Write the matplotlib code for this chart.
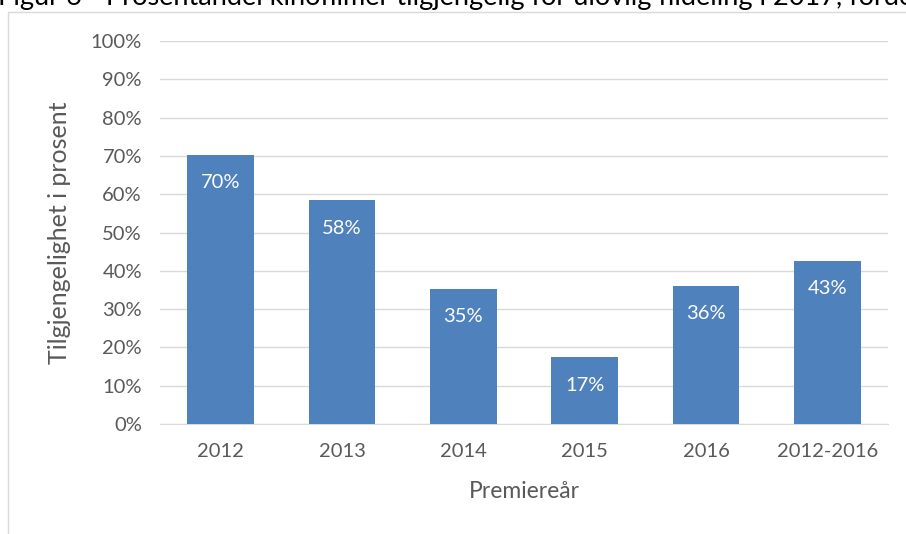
import numpy as np
import matplotlib.pyplot as plt
from matplotlib.patches import Rectangle

plt.rcParams['font.family'] = ['Lato', 'DejaVu Sans']

categories = ["2012", "2013", "2014", "2015", "2016", "2012-2016"]
values = [70.2, 58.4, 35.3, 17.4, 36.0, 42.6]
labels = ["70%", "58%", "35%", "17%", "36%", "43%"]
title = "Figur 6 - Prosentandel kinofilmer tilgjengelig for ulovlig fildeling i 2017, fordelt på premiereår"

fig = plt.figure(figsize=(9.06, 5.34), dpi=100)
ax = fig.add_axes([160 / 906, 1 - 424 / 534, 728 / 906, 383 / 534])

x = np.arange(len(categories))
bars = ax.bar(x, values, width=0.55, color="#4f81bd", zorder=3)
for b, lab in zip(bars, labels):
    ax.annotate(lab, (b.get_x() + b.get_width() / 2, b.get_height()),
                xytext=(0, -20), textcoords="offset points",
                ha="center", va="center", color="white", fontsize=14.5, zorder=4)

ax.set_xlim(-0.5, len(categories) - 0.5)
ax.set_ylim(0, 100)
ax.set_yticks(np.arange(0, 101, 10))
ax.set_yticklabels([f"{v}%" for v in range(0, 101, 10)])
ax.set_xticks(x)
ax.set_xticklabels(categories)
ax.grid(axis="y", color="#d9d9d9", linewidth=1, zorder=0)
for s in ["top", "right", "left"]:
    ax.spines[s].set_visible(False)
ax.spines["bottom"].set_color("#d9d9d9")
ax.tick_params(length=0, labelsize=14.5, labelcolor="#595959")
ax.tick_params(axis="y", pad=13)
ax.tick_params(axis="x", pad=14)
ax.set_ylabel("Tilgjengelighet i prosent", fontsize=18, color="#595959")
ax.yaxis.set_label_coords(-100 / 728, 0.5)
ax.yaxis.label.set_va("center")
ax.set_xlabel("Premiereår", fontsize=16.5, color="#595959")
ax.xaxis.set_label_coords(0.5, -68 / 383)
ax.xaxis.label.set_va("center")

# chart frame and cropped caption
fig.patches.append(Rectangle((8 / 906, -0.1), 2, 1.1 - 12 / 534, transform=fig.transFigure,
                             fill=False, edgecolor="#d9d9d9", linewidth=1))
fig.text(-2 / 906, 1 - 5 / 534, title, fontsize=19.5, color="black", ha="left", va="baseline")

fig.savefig("out.png", dpi=100)
